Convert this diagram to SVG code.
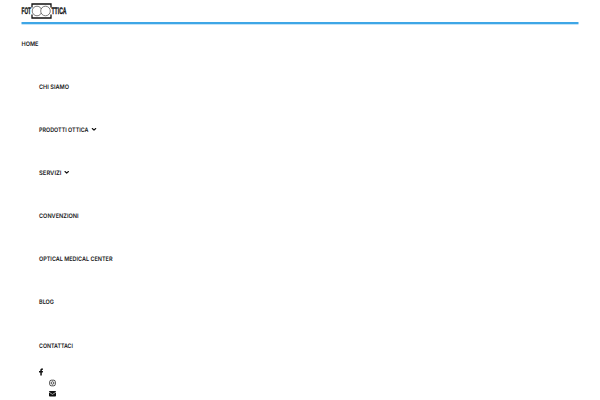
<svg xmlns="http://www.w3.org/2000/svg" width="600" height="400" viewBox="0 0 600 400">
<style>
text{text-rendering:geometricPrecision}
.m{font-family:"Inter","Liberation Sans",sans-serif;font-size:6.100px;font-weight:600;fill:#161616}
.l{font-family:"Liberation Sans",sans-serif;font-size:9.500px;font-weight:700;fill:#111;stroke:#111;stroke-width:.35}
.c{fill:none;stroke:#111;stroke-width:1.100;stroke-linecap:round;stroke-linejoin:round}
</style>
<rect width="600" height="400" fill="#fff"/>
<g id="logo">
<text class="l" x="21.500" y="14.300" textLength="9.500" lengthAdjust="spacingAndGlyphs">FOT</text>
<text class="l" x="51.500" y="14.300" textLength="15" lengthAdjust="spacingAndGlyphs">TTICA</text>
<path d="M32 7.500V4H51V7.500M32 14.500V18H51V14.500" fill="none" stroke="#111" stroke-width="1.300"/>
<circle cx="37" cy="11" r="4.800" fill="#fff" stroke="#444" stroke-width=".7"/>
<circle cx="45.500" cy="11" r="4.800" fill="#fff" stroke="#444" stroke-width=".7"/>
</g>
<rect id="rule" x="21.500" y="22" width="557" height="2.300" fill="#3ea6e6"/>
<g id="home"><text class="m" x="21.500" y="45.500" textLength="17" lengthAdjust="spacingAndGlyphs">HOME</text></g>
<g id="chi-siamo"><text class="m" x="39" y="88.800" textLength="30" lengthAdjust="spacingAndGlyphs">CHI SIAMO</text></g>
<g id="prodotti"><text class="m" x="39" y="131.800" textLength="49.500" lengthAdjust="spacingAndGlyphs">PRODOTTI OTTICA</text><path class="c" d="M92.300 128.500L94 130.200L95.700 128.500"/></g>
<g id="servizi"><text class="m" x="39" y="175" textLength="22.500" lengthAdjust="spacingAndGlyphs">SERVIZI</text><path class="c" d="M65 171.500L66.700 173.200L68.400 171.500"/></g>
<g id="convenzioni"><text class="m" x="39" y="218" textLength="39.500" lengthAdjust="spacingAndGlyphs">CONVENZIONI</text></g>
<g id="optical"><text class="m" x="39" y="261" textLength="73.500" lengthAdjust="spacingAndGlyphs">OPTICAL MEDICAL CENTER</text></g>
<g id="blog"><text class="m" x="39" y="304" textLength="15" lengthAdjust="spacingAndGlyphs">BLOG</text></g>
<g id="contattaci"><text class="m" x="39" y="347.500" textLength="34" lengthAdjust="spacingAndGlyphs">CONTATTACI</text></g>
<g id="facebook"><path d="M40.300 375.500V372.500H39V371H40.300V370C40.300 368.700 41.200 368.200 43 368.500V369.800C42 369.700 41.800 369.900 41.800 370.400V371H43L42.800 372.500H41.800V375.500Z" fill="#111"/></g>
<g id="instagram"><rect x="49.700" y="380.200" width="5.600" height="5.600" rx="1.600" fill="none" stroke="#333" stroke-width=".9"/><circle cx="52.500" cy="383" r="1.300" fill="none" stroke="#333" stroke-width=".8"/></g>
<g id="email"><rect x="49" y="391" width="7" height="5.500" rx=".8" fill="#111"/><path d="M49 392.200L52.500 394.400L56 392.200" fill="none" stroke="#fff" stroke-width=".6"/></g>
</svg>
